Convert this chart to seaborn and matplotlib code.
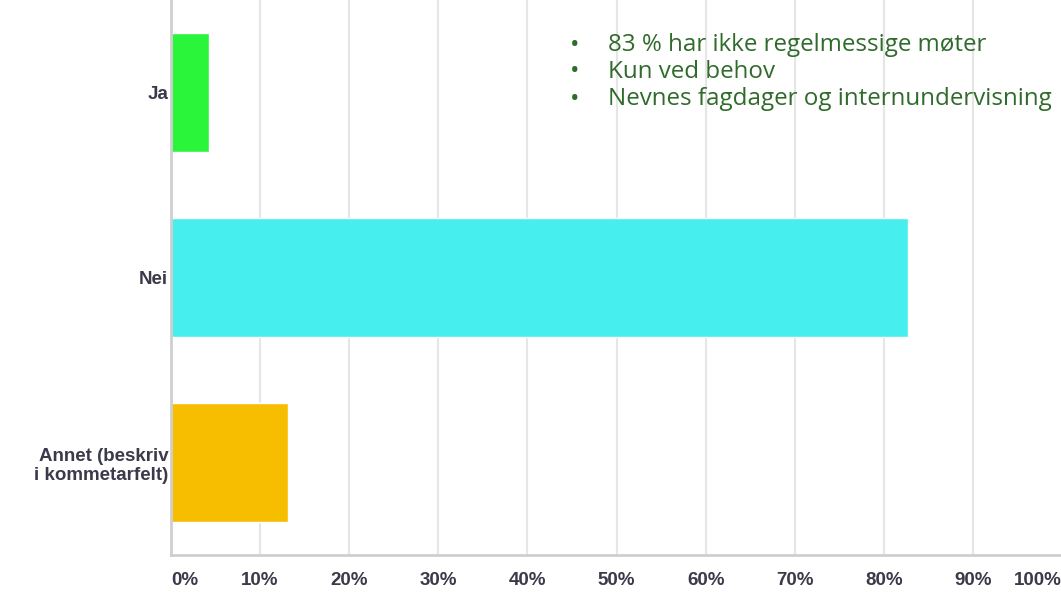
import pandas as pd
import seaborn as sns
import matplotlib.pyplot as plt

# Survey answers (share of respondents)
categories = ['Ja', 'Nei', 'Annet (beskriv\ni kommetarfelt)']
shares = [0.043, 0.827, 0.131]
colors = ['#2BF53B', '#46EEEE', '#F7BE00']
tick_values = [i / 10 for i in range(11)]
tick_labels = [f'{i * 10}%' for i in range(11)]
notes = ['83 % har ikke regelmessige møter',
         'Kun ved behov',
         'Nevnes fagdager og internundervisning']

df = pd.DataFrame({'svar': categories, 'andel': shares})

sns.set_style('white')
fig = plt.figure(figsize=(10.61, 6.04), dpi=100)
ax = fig.add_axes([171 / 1061, 49 / 604, 1 - 171 / 1061 + 0.001, 555 / 604])

sns.barplot(data=df, x='andel', y='svar', hue='svar', palette=colors,
            orient='h', width=0.64, saturation=1, legend=False, ax=ax)

ax.set_xlim(0, 1.0)
ax.set_xticks(tick_values)
ax.set_xticklabels(tick_labels)
ax.set_xlabel('')
ax.set_ylabel('')
ax.grid(axis='x', color='#E6E6E6', linewidth=1.5)
ax.set_axisbelow(True)
for side in ['top', 'right']:
    ax.spines[side].set_visible(False)
ax.spines['left'].set_color('#CFCFCF')
ax.spines['left'].set_linewidth(2)
ax.spines['bottom'].set_color('#CFCFCF')
ax.spines['bottom'].set_linewidth(2)
ax.tick_params(axis='both', length=0)
ax.tick_params(axis='x', pad=12)
ax.tick_params(axis='y', pad=2)

lbl_font = ['Liberation Sans', 'DejaVu Sans']
for t in ax.get_xticklabels() + ax.get_yticklabels():
    t.set_family(lbl_font)
    t.set_fontweight('bold')
    t.set_fontsize(13.5)
    t.set_color('#3A3A4A')
ax.get_xticklabels()[0].set_horizontalalignment('left')
ax.get_xticklabels()[-1].set_horizontalalignment('right')

# Bullet notes in the upper right
for i, note in enumerate(notes):
    y = 1 - (45 + 27 * i) / 604
    fig.text(570 / 1061, y, '•', color='#2F6B2A', fontsize=18,
             family='Open Sans', va='center')
    fig.text(608 / 1061, y, note, color='#2F6B2A', fontsize=17.4,
             family='Open Sans', va='center')

fig.savefig('out.png', dpi=100)
